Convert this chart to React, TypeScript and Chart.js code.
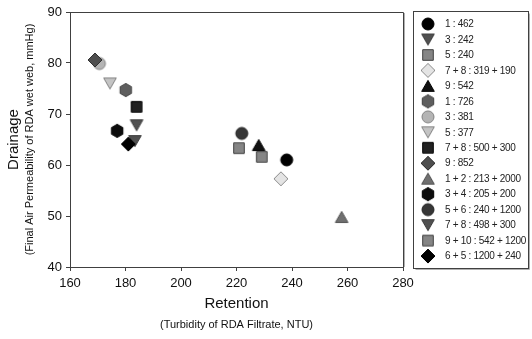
import React, { useEffect, useRef } from 'react';
import { Chart, registerables } from 'chart.js';

Chart.register(...registerables);

// ---- data ----
const seriesLabels = [
  '1 : 462',
  '3 : 242',
  '5 : 240',
  '7 + 8 : 319 + 190',
  '9 : 542',
  '1 : 726',
  '3 : 381',
  '5 : 377',
  '7 + 8 : 500 + 300',
  '9 : 852',
  '1 + 2 : 213 + 2000',
  '3 + 4 : 205 + 200',
  '5 + 6 : 240 + 1200',
  '7 + 8 : 498 + 300',
  '9 + 10 : 542 + 1200',
  '6 + 5 : 1200 + 240',
];
const retention = [238.1, 184.0, 229.1, 236.0, 228.0, 180.1, 170.6, 174.4, 184.0, 169.0, 257.9, 177.0, 221.9, 183.4, 220.9, 181.0];
const drainage = [61.0, 67.8, 61.6, 57.3, 63.9, 74.7, 79.9, 76.0, 71.4, 80.6, 49.8, 66.7, 66.2, 64.7, 63.3, 64.1];
const xTickValues = [160, 180, 200, 220, 240, 260, 280];
const yTickValues = [40, 50, 60, 70, 80, 90];

const xTitle = 'Retention';
const xSubtitle = '(Turbidity of RDA Filtrate, NTU)';
const yTitle = 'Drainage';
const ySubtitle = '(Final Air Permeability of RDA wet web, mmHg)';

// ---- styles (not data) ----
type Shape = 'circle' | 'triUp' | 'triDown' | 'square' | 'diamond' | 'hexagon';
const markerShapes: Shape[] = [
  'circle', 'triDown', 'square', 'diamond', 'triUp', 'hexagon', 'circle', 'triDown',
  'square', 'diamond', 'triUp', 'hexagon', 'circle', 'triDown', 'square', 'diamond',
];
const markerFills = [
  '#000000', '#505050', '#858585', '#e4e4e4', '#111111', '#5e5e5e', '#b4b4b4', '#c4c4c4',
  '#222222', '#4e4e4e', '#707070', '#0c0c0c', '#363636', '#505050', '#858585', '#000000',
];
const markerStrokes = [
  '#000000', '#3a3a3a', '#404040', '#8a8a8a', '#000000', '#404040', '#808080', '#808080',
  '#000000', '#303030', '#505050', '#000000', '#222222', '#3a3a3a', '#404040', '#000000',
];

const FONT = 'Arial, "Liberation Sans", sans-serif';

function makeMarker(shape: Shape, fill: string, stroke: string): HTMLCanvasElement {
  const S = 18;
  const c = document.createElement('canvas');
  c.width = S;
  c.height = S;
  const ctx = c.getContext('2d')!;
  const cx = S / 2;
  const cy = S / 2;
  ctx.beginPath();
  if (shape === 'circle') {
    ctx.arc(cx, cy, 6, 0, Math.PI * 2);
  } else if (shape === 'square') {
    ctx.rect(cx - 5.3, cy - 5.3, 10.6, 10.6);
  } else if (shape === 'diamond') {
    ctx.moveTo(cx, cy - 7);
    ctx.lineTo(cx + 7, cy);
    ctx.lineTo(cx, cy + 7);
    ctx.lineTo(cx - 7, cy);
    ctx.closePath();
  } else if (shape === 'triUp') {
    ctx.moveTo(cx, cy - 5.6);
    ctx.lineTo(cx + 6.3, cy + 5.4);
    ctx.lineTo(cx - 6.3, cy + 5.4);
    ctx.closePath();
  } else if (shape === 'triDown') {
    ctx.moveTo(cx, cy + 5.6);
    ctx.lineTo(cx + 6.3, cy - 5.4);
    ctx.lineTo(cx - 6.3, cy - 5.4);
    ctx.closePath();
  } else if (shape === 'hexagon') {
    const r = 6.6;
    for (let k = 0; k < 6; k++) {
      const a = -Math.PI / 2 + (k * Math.PI) / 3;
      const px = cx + r * Math.cos(a);
      const py = cy + r * Math.sin(a);
      if (k === 0) ctx.moveTo(px, py);
      else ctx.lineTo(px, py);
    }
    ctx.closePath();
  }
  ctx.fillStyle = fill;
  ctx.fill();
  ctx.lineWidth = 1;
  ctx.strokeStyle = stroke;
  ctx.stroke();
  return c;
}

export default function App() {
  const canvasRef = useRef<HTMLCanvasElement | null>(null);

  useEffect(() => {
    const canvas = canvasRef.current;
    if (!canvas) return;
    const markers = markerShapes.map((s, i) => makeMarker(s, markerFills[i], markerStrokes[i]));

    const datasets = seriesLabels.map((label, i) => ({
      label,
      data: [{ x: retention[i], y: drainage[i] }],
      pointStyle: markers[i] as any,
      pointRadius: 6,
      pointHoverRadius: 6,
      showLine: false,
      order: seriesLabels.length - i,
    }));

    const decorPlugin = {
      id: 'decor',
      afterDraw(chart: any) {
        const ctx: CanvasRenderingContext2D = chart.ctx;
        const area = chart.chartArea;
        ctx.save();
        // frame top & right
        ctx.strokeStyle = '#404040';
        ctx.lineWidth = 1;
        ctx.beginPath();
        ctx.moveTo(area.left, Math.round(area.top) + 0.5);
        ctx.lineTo(Math.round(area.right) + 0.5, Math.round(area.top) + 0.5);
        ctx.lineTo(Math.round(area.right) + 0.5, area.bottom);
        ctx.stroke();
        ctx.strokeStyle = '#b0b0b0';
        ctx.beginPath();
        ctx.moveTo(Math.round(area.right) + 1.5, Math.round(area.top) + 1);
        ctx.lineTo(Math.round(area.right) + 1.5, area.bottom);
        ctx.stroke();

        // axis titles
        const midX = (area.left + area.right) / 2;
        const midY = (area.top + area.bottom) / 2;
        ctx.fillStyle = '#111';
        ctx.textAlign = 'center';
        ctx.textBaseline = 'middle';
        ctx.font = `15px ${FONT}`;
        ctx.fillText(xTitle, midX, 304);
        ctx.font = `11px ${FONT}`;
        ctx.fillText(xSubtitle, midX, 325);

        ctx.save();
        ctx.translate(14, midY);
        ctx.rotate(-Math.PI / 2);
        ctx.font = `15px ${FONT}`;
        ctx.fillText(yTitle, 0, 0);
        ctx.restore();
        ctx.save();
        ctx.translate(30, midY);
        ctx.rotate(-Math.PI / 2);
        ctx.font = `11px ${FONT}`;
        ctx.fillText(ySubtitle, 0, 0);
        ctx.restore();

        // legend box
        const lx = 413.5;
        const ly = 11.5;
        const lw = 115;
        const lh = 257;
        ctx.strokeStyle = '#404040';
        ctx.strokeRect(lx, ly, lw, lh);
        ctx.strokeStyle = '#b0b0b0';
        ctx.beginPath();
        ctx.moveTo(lx + 2, ly + lh + 1);
        ctx.lineTo(lx + lw + 1, ly + lh + 1);
        ctx.lineTo(lx + lw + 1, ly + 2);
        ctx.stroke();

        ctx.font = `10px ${FONT}`;
        (ctx as any).letterSpacing = '-0.3px';
        ctx.textAlign = 'left';
        ctx.textBaseline = 'middle';
        ctx.fillStyle = '#222';
        const step = 15.47;
        chart.data.datasets.forEach((ds: any, i: number) => {
          const y = 24 + i * step;
          const img = ds.pointStyle as HTMLCanvasElement;
          ctx.drawImage(img, 428 - img.width / 2, y - img.height / 2);
          ctx.fillText(ds.label, 445, y + 0.5);
        });
        (ctx as any).letterSpacing = '0px';
        ctx.restore();
      },
    };

    const chart = new Chart(canvas, {
      type: 'scatter',
      data: { datasets },
      options: {
        animation: false,
        responsive: false,
        events: [],
        layout: { padding: { top: 12, right: 129, left: 0, bottom: 0 } },
        plugins: {
          legend: { display: false },
          tooltip: { enabled: false },
        },
        scales: {
          x: {
            type: 'linear',
            min: xTickValues[0],
            max: xTickValues[xTickValues.length - 1],
            afterBuildTicks: (scale: any) => {
              scale.ticks = xTickValues.map((v) => ({ value: v }));
            },
            afterFit: (scale: any) => {
              scale.height = 72;
            },
            grid: {
              drawOnChartArea: false,
              drawTicks: true,
              tickLength: 4,
              color: '#404040',
            },
            border: { display: true, color: '#404040', width: 1 },
            ticks: {
              padding: 5,
              color: '#111',
              font: { family: FONT, size: 13 },
            },
          },
          y: {
            type: 'linear',
            min: yTickValues[0],
            max: yTickValues[yTickValues.length - 1],
            afterBuildTicks: (scale: any) => {
              scale.ticks = yTickValues.map((v) => ({ value: v }));
            },
            afterFit: (scale: any) => {
              scale.width = 70;
            },
            grid: {
              drawOnChartArea: false,
              drawTicks: true,
              tickLength: 4,
              color: '#404040',
            },
            border: { display: true, color: '#404040', width: 1 },
            ticks: {
              padding: 4,
              color: '#111',
              font: { family: FONT, size: 13 },
            },
          },
        },
      },
      plugins: [decorPlugin],
    } as any);

    return () => {
      chart.destroy();
    };
  }, []);

  return (
    <div style={{ position: 'fixed', left: 0, top: 0, width: 532, height: 339, background: '#fff' }}>
      <canvas ref={canvasRef} width={532} height={339} style={{ display: 'block', width: 532, height: 339 }} />
    </div>
  );
}
